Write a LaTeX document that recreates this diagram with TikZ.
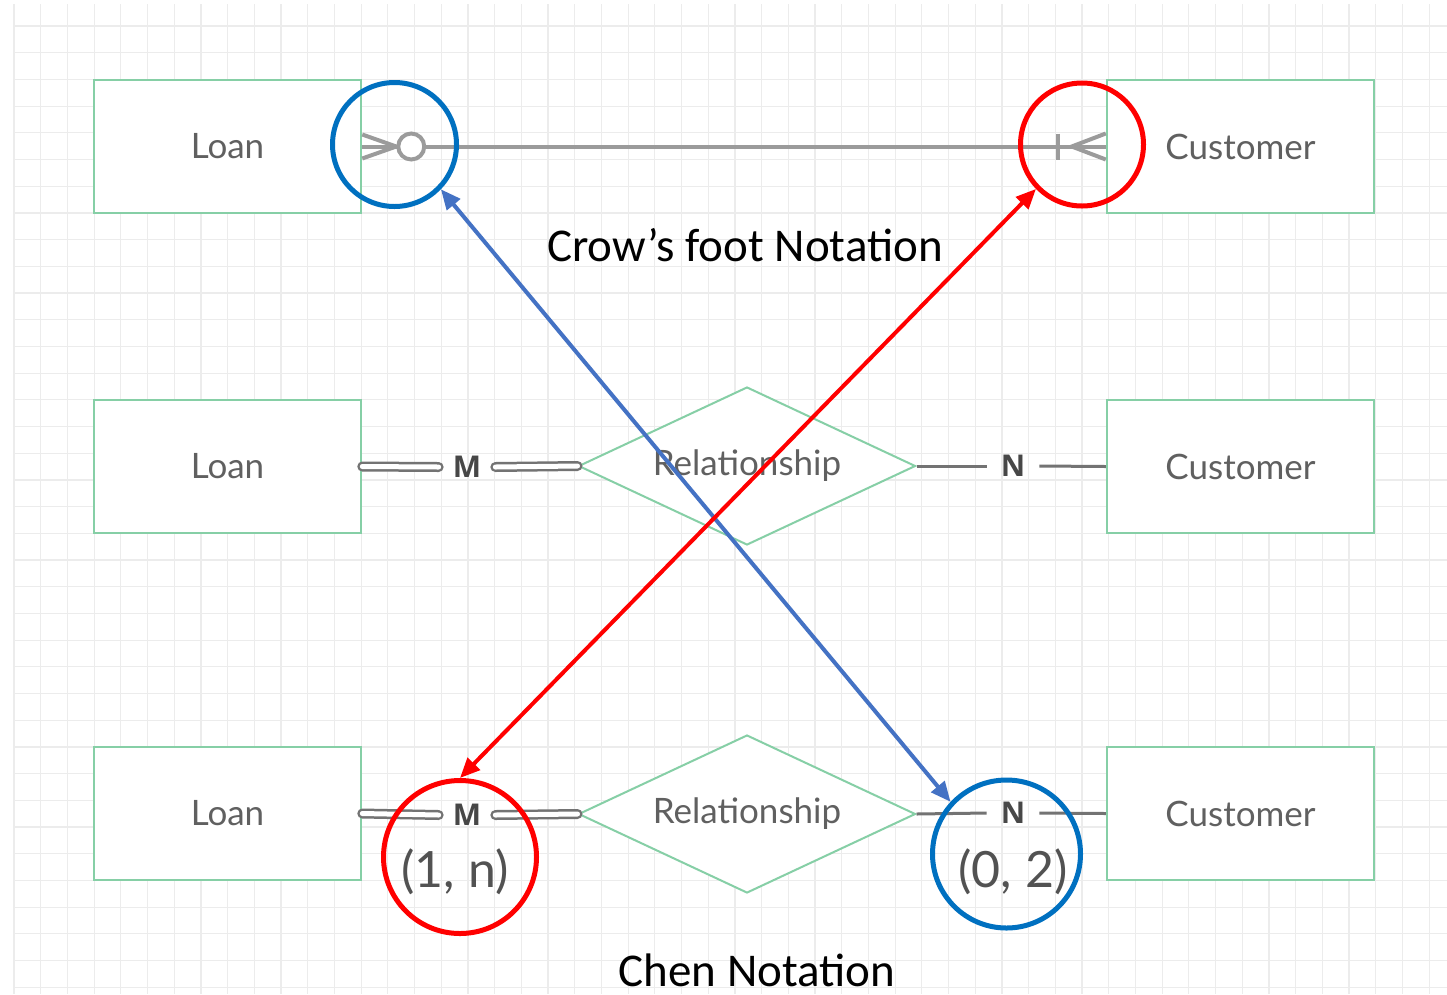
\documentclass[tikz,border=0pt]{standalone}
\usepackage{fontspec}
\usetikzlibrary{shapes.geometric,arrows.meta}
\newfontfamily\erfont{Lato}
\newfontfamily\cardfont{Open Sans}
\newfontfamily\notefont{Carlito}
\definecolor{boxgreen}{RGB}{134,207,166}
\definecolor{linegray}{RGB}{155,155,155}
\definecolor{textgray}{RGB}{96,96,96}
\definecolor{ringblue}{RGB}{0,112,192}
\definecolor{arrowblue}{RGB}{68,114,196}
\definecolor{gridgray}{RGB}{236,236,236}

\begin{document}
\begin{tikzpicture}[x=1pt,y=-1pt,
    entity/.style={draw=boxgreen,fill=white,line width=2.5pt,minimum width=267pt,minimum height=133pt,
      inner sep=0pt,text=textgray,font=\erfont\fontsize{35}{40}\selectfont},
    relation/.style={diamond,draw=boxgreen,fill=white,line width=2pt,minimum width=337pt,minimum height=158pt,
      aspect=2.13,inner sep=0pt,text=textgray,font=\erfont\fontsize{35}{40}\selectfont},
    card/.style={inner xsep=14pt,inner ysep=0pt,text=black!72,font=\cardfont\bfseries\fontsize{30}{34}\selectfont},
    minmax/.style={inner sep=0pt,text=black!68,font=\erfont\fontsize{50}{56}\selectfont},
    gridline/.style={draw=gridgray,line width=1.2pt},
    crow/.style={draw=linegray,line width=4pt},
    chendouble/.style={draw=black!55,line width=2.5pt,double=white,double distance=5pt,line cap=round},
    chensingle/.style={draw=black!55,line width=3pt},
    ring/.style={circle,draw,line width=5pt,inner sep=0pt},
    link/.style={line width=4pt,{Triangle[length=20pt,width=17pt]}-{Triangle[length=20pt,width=17pt]}},
    caption/.style={inner sep=0pt,text=black,font=\notefont\fontsize{47}{52}\selectfont}]

  \useasboundingbox (0,0) rectangle (1447,994);
  \fill[white] (0,0) rectangle (1447,994);

  % background grid
  \foreach \gx in {0,...,53}
    \draw[gridline] ({14+26.7*\gx},4) -- ({14+26.7*\gx},994);
  \foreach \gy in {0,...,36}
    \draw[gridline] (14,{26+26.7*\gy}) -- (1447,{26+26.7*\gy});

  % crow's foot row
  \node[entity] (loanA) at (227.5,146.5) {Loan};
  \node[entity] (custA) at (1240.5,146.5) {Customer};
  \draw[crow] (loanA.east) -- (custA.west);
  \draw[crow] (loanA.east) ++(0,-12) -- ++(34,12) -- ++(-34,12);
  \draw[crow,fill=white] (loanA.east) ++(49,0) circle[radius=13pt];
  \draw[crow] (custA.west) ++(-48,-13) -- ++(0,26);
  \draw[crow] (custA.west) ++(0,-13) -- ++(-34,13) -- ++(34,13);

  % chen row
  \node[entity] (loanB) at (227.5,466.5) {Loan};
  \node[entity] (custB) at (1240.5,466.5) {Customer};
  \node[relation] (relB) at (747,466) {Relationship};
  \node[card] (mB) at (467,467) {M};
  \node[card] (nB) at (1013,466) {N};
  \draw[chendouble] (loanB.east) -- (mB.west);
  \draw[chendouble] (mB.east) -- (relB.west);
  \draw[chensingle] (relB.east) -- (nB.west);
  \draw[chensingle] (nB.east) -- (custB.west);

  % chen row with (min, max)
  \node[entity] (loanC) at (227.5,813.5) {Loan};
  \node[entity] (custC) at (1240.5,813.5) {Customer};
  \node[relation] (relC) at (747,814) {Relationship};
  \node[card] (mC) at (467,815) {M};
  \node[card] (nC) at (1013,813) {N};
  \draw[chendouble] (loanC.east) -- (mC.west);
  \draw[chendouble] (mC.east) -- (relC.west);
  \draw[chensingle] (relC.east) -- (nC.west);
  \draw[chensingle] (nC.east) -- (custC.west);
  \node[minmax] (oneN) at (455,872) {(1, n)};
  \node[minmax] (zeroTwo) at (1013,872) {(0, 2)};

  % captions
  \node[caption,anchor=base] (crowCap) at (745,261.5) {Crow’s foot Notation};
  \node[caption,anchor=base] (chenCap) at (757,986) {Chen Notation};

  % highlight rings
  \node[ring,draw=ringblue,minimum size=124pt] (ringLoan) at (394.5,144.5) {};
  \node[ring,draw=red,minimum size=123pt] (ringCust) at (1082,144.5) {};
  \node[ring,draw=red,minimum size=153pt] (ringOneN) at (460,857) {};
  \node[ring,draw=ringblue,minimum size=148pt] (ringZeroTwo) at (1006.5,854) {};

  \draw[link,arrowblue] (ringLoan.-44) -- (ringZeroTwo.137);
  \draw[link,red] (ringCust.224) -- (ringOneN.north);
\end{tikzpicture}
\end{document}
